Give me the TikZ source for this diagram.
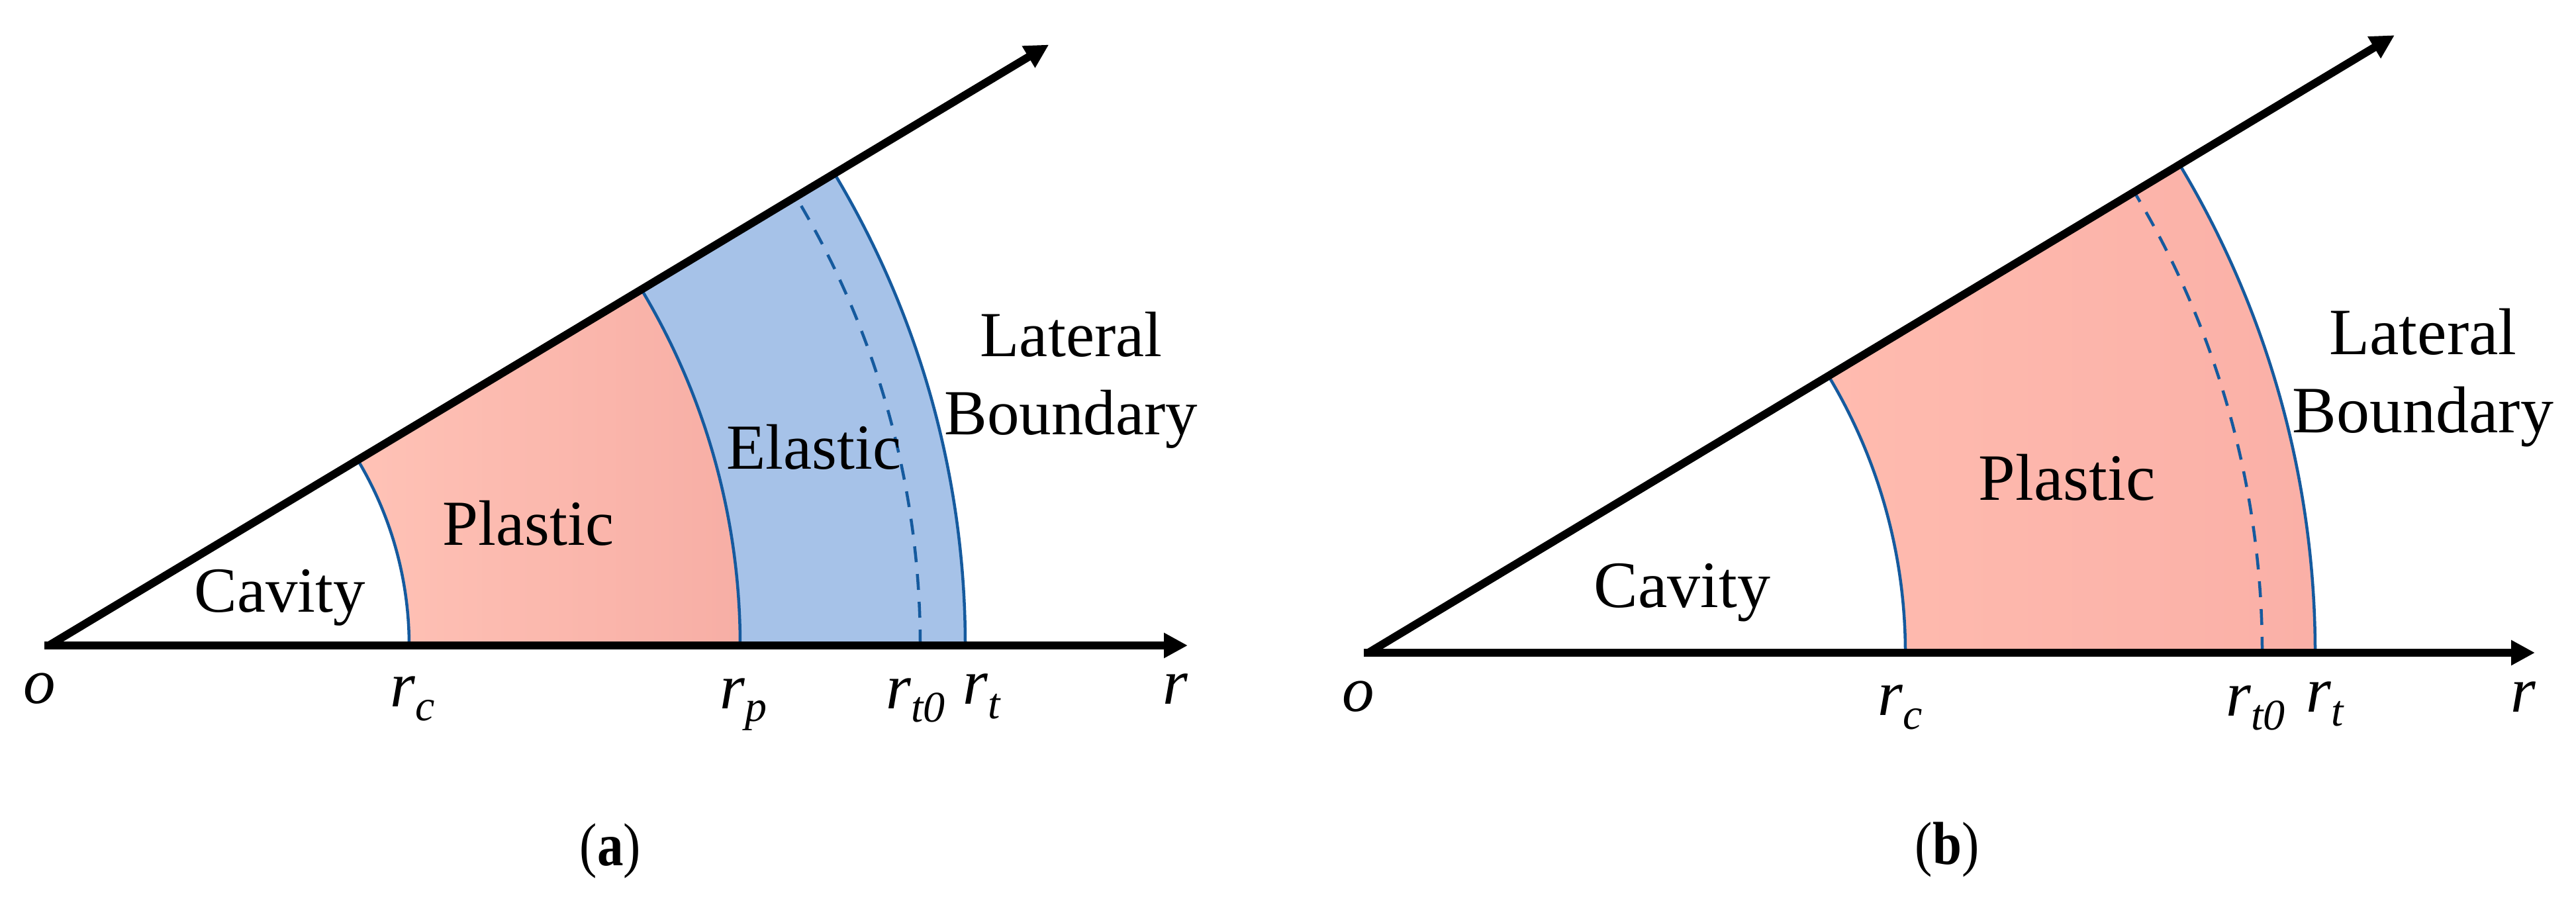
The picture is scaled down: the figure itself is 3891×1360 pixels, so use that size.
\documentclass[tikz,border=0pt]{standalone}
\usepackage{fontspec}
\usepackage{graphicx}
\setmainfont{Liberation Serif}
\usetikzlibrary{arrows.meta}
\definecolor{arcblue}{HTML}{155A9E}
\definecolor{elastic}{HTML}{A6C2E8}
\definecolor{plasticL}{HTML}{FFC2B6}
\definecolor{plasticR}{HTML}{F7AEA5}
\definecolor{plasticLb}{HTML}{FFBBAF}
\definecolor{plasticRb}{HTML}{FAB0A7}
\newcommand{\rsub}[2]{\textit{r}\raisebox{-#2pt}{\fontsize{66}{66}\selectfont\textit{#1}}}
\tikzset{
  txta/.style={inner sep=0pt,font=\fontsize{97}{118}\selectfont,align=center,text=black},
  txtb/.style={inner sep=0pt,font=\fontsize{100}{118}\selectfont,align=center,text=black},
  sym/.style={inner sep=0pt,anchor=base west,font=\fontsize{97}{97}\selectfont,text=black},
  captxt/.style={inner sep=0pt,font=\fontsize{79}{79}\selectfont,text=black},
  bound/.style={draw=arcblue,line width=4.5pt},
  dashbound/.style={draw=arcblue,line width=4.5pt,dash pattern=on 24pt off 18pt},
  axis/.style={draw=black,line width=12pt,-{Triangle[length=36pt,width=36pt]}}
}
\begin{document}
\begin{tikzpicture}[x=1pt,y=1pt]
\path[fill=white] (0,0) rectangle (3891,1360);
% ---------- panel a
\begin{scope}[shift={(74,385)}]
\coordinate (oa) at (0,0);
\coordinate (xa) at (1720,0);
\coordinate (ya) at (31:1762);
\shade[left color=plasticL,right color=plasticR] (544,0) arc[start angle=0,end angle=31,radius=544pt] -- (31:1044) arc[start angle=31,end angle=0,radius=1044pt] -- cycle;
\fill[elastic] (1044,0) arc[start angle=0,end angle=31,radius=1044pt] -- (31:1384) arc[start angle=31,end angle=0,radius=1384pt] -- cycle;
\draw[bound] (544,0) arc[start angle=0,end angle=31,radius=544pt];
\draw[bound] (1044,0) arc[start angle=0,end angle=31,radius=1044pt];
\draw[dashbound] (1316,0) arc[start angle=0,end angle=31,radius=1316pt];
\draw[bound] (1384,0) arc[start angle=0,end angle=31,radius=1384pt];
\draw[axis] ([xshift=-7pt]oa) -- (xa);
\draw[axis] (oa) -- (ya);
\end{scope}
\node[txta] (cava) at (423,457) {Cavity};
\node[txta] (plaa) at (798,570) {Plastic};
\node[txta] (elaa) at (1229,685) {Elastic};
\node[txta] (lata) at (1618,786) {Lateral\\Boundary};
\node[sym] (oaL) at (35,297) {\textit{o}};
\node[sym] (rca) at (589,292) {\rsub{c}{21}};
\node[sym] (rpa) at (1087,289) {\rsub{p}{19}};
\node[sym] (rt0a) at (1338,289) {\rsub{t0}{20}};
\node[sym] (rta) at (1454,296) {\rsub{t}{22}};
\node[sym] (ra) at (1756,296) {\textit{r}};
\node[captxt] (capa) at (922,75) {\scalebox{1}[1.16]{(\textbf{a})}};
% ---------- panel b
\begin{scope}[shift={(2067,374)}]
\coordinate (ob) at (0,0);
\coordinate (xb) at (1762,0);
\coordinate (yb) at (31.04:1809);
\shade[left color=plasticLb,right color=plasticRb] (811,0) arc[start angle=0,end angle=31.04,radius=811pt] -- (31.04:1430) arc[start angle=31.04,end angle=0,radius=1430pt] -- cycle;
\draw[bound] (811,0) arc[start angle=0,end angle=31.04,radius=811pt];
\draw[dashbound] (1350,0) arc[start angle=0,end angle=31.04,radius=1350pt];
\draw[bound] (1430,0) arc[start angle=0,end angle=31.04,radius=1430pt];
\draw[axis] ([xshift=-7pt]ob) -- (xb);
\draw[axis] (ob) -- (yb);
\end{scope}
\node[txtb] (cavb) at (2541,465) {Cavity};
\node[txtb] (plab) at (3122,639) {Plastic};
\node[txtb] (latb) at (3660,789) {Lateral\\Boundary};
\node[sym] (obL) at (2027,285) {\textit{o}};
\node[sym] (rcb) at (2836,279) {\rsub{c}{21}};
\node[sym] (rt0b) at (3362,278) {\rsub{t0}{21}};
\node[sym] (rtb) at (3483,284) {\rsub{t}{21}};
\node[sym] (rb) at (3792,284) {\textit{r}};
\node[captxt] (capb) at (2941,77) {\scalebox{1}[1.16]{(\textbf{b})}};
\end{tikzpicture}
\end{document}
